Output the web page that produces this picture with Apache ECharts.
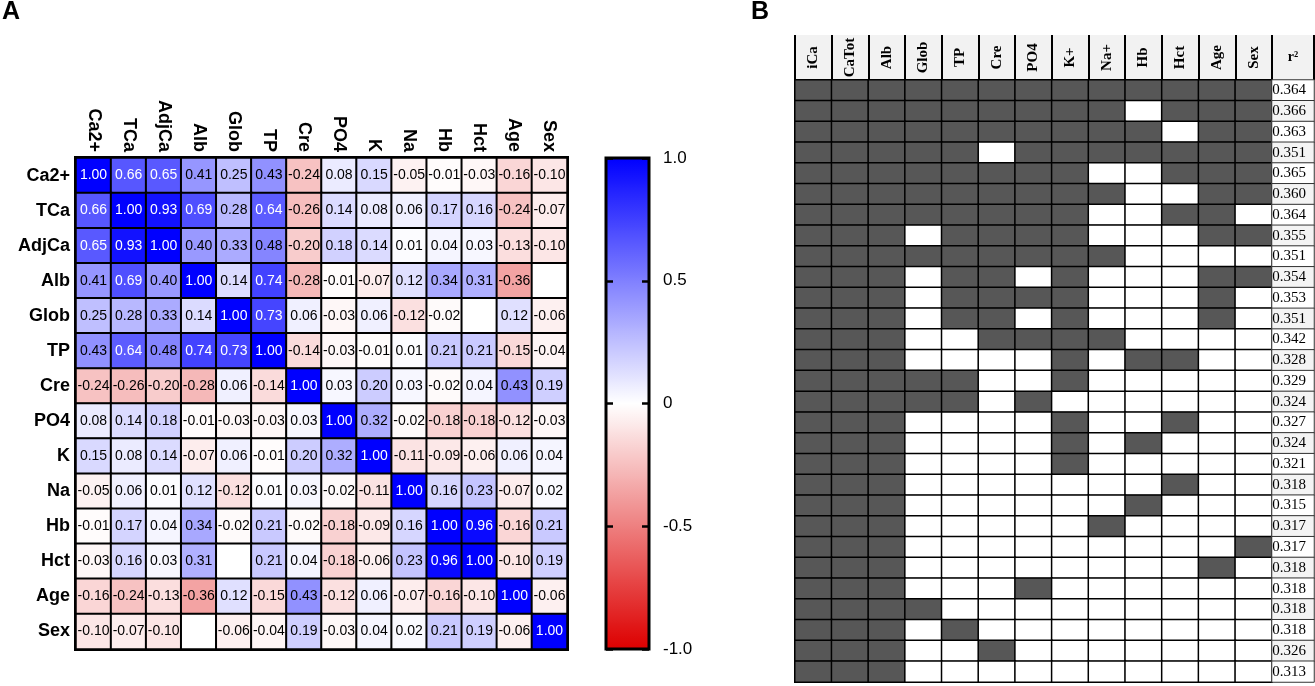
<!DOCTYPE html>
<html>
<head>
<meta charset="utf-8">
<script src="https://cdn.jsdelivr.net/npm/echarts@6/dist/echarts.min.js"></script>
<style>
  html, body { margin: 0; padding: 0; background: #fff; }
  #chart { width: 1315px; height: 686px; }
</style>
</head>
<body>
<div id="chart"></div>
<script>
// Panel A: correlation matrix
const vars = ['Ca2+', 'TCa', 'AdjCa', 'Alb', 'Glob', 'TP', 'Cre', 'PO4', 'K', 'Na', 'Hb', 'Hct', 'Age', 'Sex'];
const corr = [
  [1.00, 0.66, 0.65, 0.41, 0.25, 0.43, -0.24, 0.08, 0.15, -0.05, -0.01, -0.03, -0.16, -0.10],
  [0.66, 1.00, 0.93, 0.69, 0.28, 0.64, -0.26, 0.14, 0.08, 0.06, 0.17, 0.16, -0.24, -0.07],
  [0.65, 0.93, 1.00, 0.40, 0.33, 0.48, -0.20, 0.18, 0.14, 0.01, 0.04, 0.03, -0.13, -0.10],
  [0.41, 0.69, 0.40, 1.00, 0.14, 0.74, -0.28, -0.01, -0.07, 0.12, 0.34, 0.31, -0.36, null],
  [0.25, 0.28, 0.33, 0.14, 1.00, 0.73, 0.06, -0.03, 0.06, -0.12, -0.02, null, 0.12, -0.06],
  [0.43, 0.64, 0.48, 0.74, 0.73, 1.00, -0.14, -0.03, -0.01, 0.01, 0.21, 0.21, -0.15, -0.04],
  [-0.24, -0.26, -0.20, -0.28, 0.06, -0.14, 1.00, 0.03, 0.20, 0.03, -0.02, 0.04, 0.43, 0.19],
  [0.08, 0.14, 0.18, -0.01, -0.03, -0.03, 0.03, 1.00, 0.32, -0.02, -0.18, -0.18, -0.12, -0.03],
  [0.15, 0.08, 0.14, -0.07, 0.06, -0.01, 0.20, 0.32, 1.00, -0.11, -0.09, -0.06, 0.06, 0.04],
  [-0.05, 0.06, 0.01, 0.12, -0.12, 0.01, 0.03, -0.02, -0.11, 1.00, 0.16, 0.23, -0.07, 0.02],
  [-0.01, 0.17, 0.04, 0.34, -0.02, 0.21, -0.02, -0.18, -0.09, 0.16, 1.00, 0.96, -0.16, 0.21],
  [-0.03, 0.16, 0.03, 0.31, null, 0.21, 0.04, -0.18, -0.06, 0.23, 0.96, 1.00, -0.10, 0.19],
  [-0.16, -0.24, -0.13, -0.36, 0.12, -0.15, 0.43, -0.12, 0.06, -0.07, -0.16, -0.10, 1.00, -0.06],
  [-0.10, -0.07, -0.10, null, -0.06, -0.04, 0.19, -0.03, 0.04, 0.02, 0.21, 0.19, -0.06, 1.00]
];

// Panel B: predictors included in each model (1 = included) and its r²
const predictors = ['iCa', 'CaTot', 'Alb', 'Glob', 'TP', 'Cre', 'PO4', 'K+', 'Na+', 'Hb', 'Hct', 'Age', 'Sex'];
const models = [
  [1,1,1,1,1,1,1,1,1,1,1,1,1],
  [1,1,1,1,1,1,1,1,1,0,1,1,1],
  [1,1,1,1,1,1,1,1,1,1,0,1,1],
  [1,1,1,1,1,0,1,1,1,1,1,1,1],
  [1,1,1,1,1,1,1,1,0,0,1,1,1],
  [1,1,1,1,1,1,1,1,1,0,0,1,1],
  [1,1,1,1,1,1,1,1,0,0,1,1,0],
  [1,1,1,0,1,1,1,1,0,0,0,1,1],
  [1,1,1,1,1,1,1,1,1,0,0,0,0],
  [1,1,1,0,1,1,0,1,0,0,0,1,1],
  [1,1,1,0,1,1,1,1,0,0,0,1,0],
  [1,1,1,0,1,1,0,1,0,0,0,1,0],
  [1,1,1,0,0,1,1,1,1,0,0,0,0],
  [1,1,1,0,0,0,0,1,0,1,1,0,0],
  [1,1,1,1,1,0,0,1,0,0,0,0,0],
  [1,1,1,1,1,0,1,0,0,0,0,0,0],
  [1,1,1,0,0,0,0,1,0,0,1,0,0],
  [1,1,1,0,0,0,0,1,0,1,0,0,0],
  [1,1,1,0,0,0,0,1,0,0,0,0,0],
  [1,1,1,0,0,0,0,0,0,0,1,0,0],
  [1,1,1,0,0,0,0,0,0,1,0,0,0],
  [1,1,1,0,0,0,0,0,1,0,0,0,0],
  [1,1,1,0,0,0,0,0,0,0,0,0,1],
  [1,1,1,0,0,0,0,0,0,0,0,1,0],
  [1,1,1,0,0,0,1,0,0,0,0,0,0],
  [1,1,1,1,0,0,0,0,0,0,0,0,0],
  [1,1,1,0,1,0,0,0,0,0,0,0,0],
  [1,1,1,0,0,1,0,0,0,0,0,0,0],
  [1,1,1,0,0,0,0,0,0,0,0,0,0]
];
const r2 = [0.364, 0.366, 0.363, 0.351, 0.365, 0.360, 0.364, 0.355, 0.351, 0.354, 0.353, 0.351, 0.342, 0.328,
  0.329, 0.324, 0.327, 0.324, 0.321, 0.318, 0.315, 0.317, 0.317, 0.318, 0.318, 0.318, 0.318, 0.326, 0.313];

const sans = 'Arial, "Liberation Sans", sans-serif';
const serif = '"Times New Roman", "Liberation Serif", serif';
const rowIds = models.map((m, i) => 'm' + i);

const corrData = [];
corr.forEach((row, i) => {
  row.forEach((v, j) => {
    if (v === null) {
      // empty cell in the original: drawn white, no label
      corrData.push({ value: [j, i, 0], label: { show: false } });
    } else {
      corrData.push({ value: [j, i, v], label: { color: v >= 0.5 ? '#fff' : '#000' } });
    }
  });
});

const modelData = [];
models.forEach((row, i) => row.forEach((v, j) => modelData.push([j, i, v])));

const r2Data = r2.map((v, i) => ({
  value: [0, i, v],
  itemStyle: { color: i % 2 === 1 ? '#f4f4f4' : '#ffffff' }
}));

const headerAxis = (gridIndex, data, rotate, size) => ({
  gridIndex, type: 'category', data, position: 'bottom', offset: -22.5,
  axisLine: { show: false }, axisTick: { show: false },
  axisLabel: {
    rotate, margin: 0, align: 'center', verticalAlign: 'middle', interval: 0,
    color: '#000', fontFamily: serif, fontSize: size, fontWeight: 'bold'
  },
  splitLine: { show: true, lineStyle: { color: '#000', width: 2 } }
});

const chart = echarts.init(document.getElementById('chart'));
chart.setOption({
  animation: false,
  title: [
    { text: 'A', left: 2, top: 0, padding: 0, textStyle: { fontFamily: sans, fontSize: 25, fontWeight: 'bold', color: '#000' } },
    { text: 'B', left: 751, top: 0, padding: 0, textStyle: { fontFamily: sans, fontSize: 25, fontWeight: 'bold', color: '#000' } }
  ],
  grid: [
    { left: 76, top: 158, width: 491, height: 491, show: true, backgroundColor: 'transparent', borderColor: '#000', borderWidth: 4 },
    { left: 606, top: 158, width: 43, height: 491, show: true, z: 10, backgroundColor: 'transparent', borderColor: '#000', borderWidth: 3 },
    { left: 795, top: 80, width: 477, height: 602, show: true, backgroundColor: 'transparent', borderColor: '#000', borderWidth: 2 },
    { left: 1272, top: 80, width: 42, height: 602 },
    { left: 795, top: 35, width: 477, height: 45, show: true, backgroundColor: '#f2f2f2', borderWidth: 0 },
    { left: 1272, top: 35, width: 42, height: 45, show: true, backgroundColor: '#f2f2f2', borderWidth: 0 }
  ],
  xAxis: [
    {
      gridIndex: 0, type: 'category', data: vars, position: 'top',
      axisLine: { show: false }, axisTick: { show: false },
      axisLabel: { rotate: 90, margin: 6, color: '#000', fontFamily: sans, fontSize: 18, fontWeight: 'bold' }
    },
    { gridIndex: 1, type: 'value', show: false, min: 0, max: 1 },
    { gridIndex: 2, type: 'category', data: predictors, show: false },
    { gridIndex: 3, type: 'category', data: ['r2'], show: false },
    headerAxis(4, predictors, 90, 15),
    headerAxis(5, ['r²'], 0, 14)
  ],
  yAxis: [
    {
      gridIndex: 0, type: 'category', data: vars, inverse: true,
      axisLine: { show: false }, axisTick: { show: false },
      axisLabel: { margin: 6, color: '#000', fontFamily: sans, fontSize: 18, fontWeight: 'bold' }
    },
    {
      gridIndex: 1, type: 'value', position: 'left', min: -1, max: 1, interval: 0.5, z: 12,
      axisLine: { show: false }, splitLine: { show: false }, axisLabel: { show: false },
      axisTick: { show: true, inside: true, length: 7, lineStyle: { color: '#000', width: 2.5 } }
    },
    {
      gridIndex: 1, type: 'value', position: 'right', min: -1, max: 1, interval: 0.5, z: 12,
      axisLine: { show: false }, splitLine: { show: false },
      axisTick: { show: true, inside: true, length: 7, lineStyle: { color: '#000', width: 2.5 } },
      axisLabel: {
        margin: 14, color: '#000', fontFamily: sans, fontSize: 17,
        formatter: v => (v === 0 ? '0' : v.toFixed(1))
      }
    },
    { gridIndex: 2, type: 'category', data: rowIds, inverse: true, show: false },
    { gridIndex: 3, type: 'category', data: rowIds, inverse: true, show: false },
    { gridIndex: 4, type: 'category', data: ['h'], show: false },
    { gridIndex: 5, type: 'category', data: ['h'], show: false }
  ],
  visualMap: [
    {
      type: 'continuous', seriesIndex: 0, min: -1, max: 1,
      orient: 'vertical', left: 606, top: 158, itemWidth: 43, itemHeight: 491,
      calculable: false, text: null, padding: 0,
      inRange: { color: ['#dd0000', '#ffffff', '#0000ff'] }
    },
    {
      type: 'piecewise', seriesIndex: 1, show: false,
      pieces: [{ min: 0.5, color: '#575757' }, { max: 0.5, color: '#ffffff' }]
    }
  ],
  series: [
    {
      type: 'heatmap', xAxisIndex: 0, yAxisIndex: 0, data: corrData,
      itemStyle: { borderColor: '#000', borderWidth: 2 },
      label: { show: true, fontFamily: sans, fontSize: 14, formatter: p => p.value[2].toFixed(2) },
      emphasis: { disabled: true }
    },
    {
      type: 'heatmap', xAxisIndex: 2, yAxisIndex: 3, data: modelData,
      itemStyle: { borderColor: '#000', borderWidth: 1.5 },
      emphasis: { disabled: true }
    },
    {
      type: 'heatmap', xAxisIndex: 3, yAxisIndex: 4, data: r2Data,
      itemStyle: { borderColor: '#333', borderWidth: 1 },
      label: {
        show: true, position: 'insideLeft', distance: 1, color: '#000',
        fontFamily: serif, fontSize: 15, formatter: p => p.value[2].toFixed(3)
      },
      emphasis: { disabled: true }
    }
  ]
});
</script>
</body>
</html>
